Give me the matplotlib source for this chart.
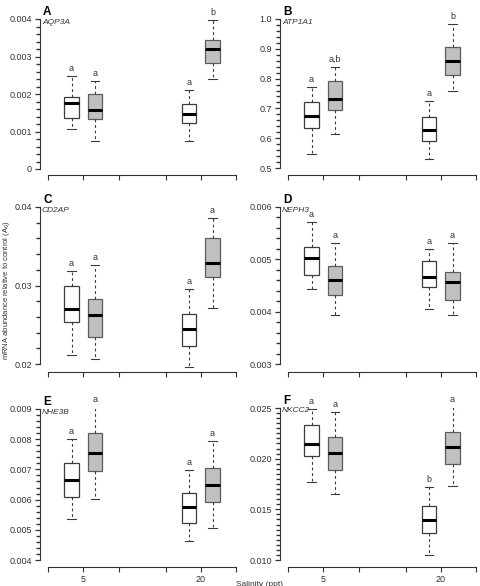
import matplotlib
matplotlib.use('Agg')
import matplotlib.pyplot as plt
import numpy as np

plt.rcParams['font.family'] = ['Liberation Sans', 'DejaVu Sans']

# box order: 5 ppt white, 5 ppt gray, 20 ppt white, 20 ppt gray
# each box: [whisker low, Q1, median, Q3, whisker high]
aqp3a = [[0.00108, 0.00137, 0.00177, 0.00193, 0.00248],
         [0.00076, 0.00134, 0.00158, 0.00201, 0.00234],
         [0.00074, 0.00122, 0.00146, 0.00174, 0.00210],
         [0.00239, 0.00283, 0.00319, 0.00345, 0.00398]]
atp1a1 = [[0.548, 0.635, 0.675, 0.721, 0.773],
          [0.613, 0.694, 0.730, 0.791, 0.840],
          [0.530, 0.590, 0.628, 0.670, 0.725],
          [0.758, 0.813, 0.860, 0.906, 0.982]]
cd2ap = [[0.0212, 0.0253, 0.0270, 0.0299, 0.0318],
         [0.0206, 0.0234, 0.0263, 0.0283, 0.0326],
         [0.0196, 0.0223, 0.0245, 0.0264, 0.0295],
         [0.0271, 0.0311, 0.0329, 0.0360, 0.0386]]
neph3 = [[0.00443, 0.00471, 0.00503, 0.00523, 0.00571],
         [0.00393, 0.00432, 0.00461, 0.00488, 0.00531],
         [0.00406, 0.00448, 0.00466, 0.00496, 0.00520],
         [0.00393, 0.00423, 0.00457, 0.00476, 0.00531]]
nhe3b = [[0.00537, 0.00610, 0.00665, 0.00722, 0.00800],
         [0.00601, 0.00694, 0.00755, 0.00821, 0.00906],
         [0.00462, 0.00521, 0.00577, 0.00623, 0.00697],
         [0.00506, 0.00593, 0.00649, 0.00706, 0.00794]]
nkcc2 = [[0.01771, 0.02029, 0.02144, 0.02329, 0.02493],
         [0.01653, 0.01887, 0.02058, 0.02213, 0.02460],
         [0.01053, 0.01264, 0.01396, 0.01531, 0.01722],
         [0.01729, 0.01949, 0.02114, 0.02259, 0.02507]]

genes = ['AQP3A', 'ATP1A1', 'CD2AP', 'NEPH3', 'NHE3B', 'NKCC2']
panel_ids = ['A', 'B', 'C', 'D', 'E', 'F']
all_stats = [aqp3a, atp1a1, cd2ap, neph3, nhe3b, nkcc2]
letters = [['a', 'a', 'a', 'b'],
           ['a', 'a,b', 'a', 'b'],
           ['a', 'a', 'a', 'a'],
           ['a', 'a', 'a', 'a'],
           ['a', 'a', 'a', 'a'],
           ['a', 'a', 'b', 'a']]
yticks = [[0, 0.001, 0.002, 0.003, 0.004],
          [0.5, 0.6, 0.7, 0.8, 0.9, 1.0],
          [0.02, 0.03, 0.04],
          [0.003, 0.004, 0.005, 0.006],
          [0.004, 0.005, 0.006, 0.007, 0.008, 0.009],
          [0.010, 0.015, 0.020, 0.025]]
ytick_labels = [['0', '0.001', '0.002', '0.003', '0.004'],
                ['0.5', '0.6', '0.7', '0.8', '0.9', '1.0'],
                ['0.02', '0.03', '0.04'],
                ['0.003', '0.004', '0.005', '0.006'],
                ['0.004', '0.005', '0.006', '0.007', '0.008', '0.009'],
                ['0.010', '0.015', '0.020', '0.025']]
minor_per_major = [5, 5, 5, 5, 5, 10]
salinity = ['5', '20']

positions = [1, 2, 6, 7]
xticks = [0, 1.5, 3, 5, 6.5, 8]
fills = ['white', '#c0c0c0', 'white', '#c0c0c0']
edges = ['#3c3c3c', '#5c5c5c', '#3c3c3c', '#5c5c5c']

W, H = 481, 586
# pixel layout: spine x, top of data, bottom of data, x-axis line
layout = [(40, 19, 169, 175), (280, 19, 168, 175),
          (40, 207, 364, 372), (280, 207, 364, 372),
          (40, 409, 560, 567), (280, 408, 560, 567)]
px_per_unit = 23.5

fig = plt.figure(figsize=(W / 100, H / 100), dpi=100)

for i in range(6):
    L, T, B, X = layout[i]
    ymin, ymax = yticks[i][0], yticks[i][-1]
    scale = (ymax - ymin) / (B - T)
    x_left = -8 / px_per_unit
    x_right = 8.15
    width_px = (x_right - x_left) * px_per_unit
    ax = fig.add_axes([L / W, 1 - X / H, width_px / W, (X - T) / H])
    ax.set_xlim(x_left, x_right)
    ax.set_ylim(ymin - (X - B) * scale, ymax)

    stats = []
    for s in all_stats[i]:
        stats.append(dict(whislo=s[0], q1=s[1], med=s[2], q3=s[3], whishi=s[4]))
    bp = ax.bxp(stats, positions=positions, widths=0.62, showfliers=False,
                patch_artist=True,
                boxprops=dict(linewidth=0.9),
                medianprops=dict(color='black', linewidth=2.2, solid_capstyle='butt'),
                whiskerprops=dict(color='#3a3a3a', linewidth=0.8, linestyle=(0, (2.5, 2.5))),
                capprops=dict(color='#3a3a3a', linewidth=0.8),
                capwidths=0.37)
    for patch, c, e in zip(bp['boxes'], fills, edges):
        patch.set_facecolor(c)
        patch.set_edgecolor(e)

    for pos, s, lab in zip(positions, all_stats[i], letters[i]):
        ax.text(pos, s[4] + 3 * scale, lab, ha='center', va='bottom', fontsize=6.5,
                color='#333333')

    for side in ['top', 'right']:
        ax.spines[side].set_visible(False)
    ax.spines['left'].set_bounds(ymin, ymax)
    ax.spines['bottom'].set_bounds(0, 8)
    for side in ['left', 'bottom']:
        ax.spines[side].set_color('#333333')
        ax.spines[side].set_linewidth(0.8)

    ax.set_yticks(yticks[i])
    ax.set_yticklabels(ytick_labels[i])
    step = (yticks[i][1] - yticks[i][0]) / minor_per_major[i]
    n_minor = int(round((ymax - ymin) / step))
    ax.set_yticks(ymin + step * np.arange(n_minor + 1), minor=True)
    ax.tick_params(axis='y', which='major', length=3.8, width=0.9, labelsize=6.5,
                   pad=2, color='#333333', labelcolor='#333333')
    ax.tick_params(axis='y', which='minor', length=2.8, width=1.0, color='#333333',
                   left=True)
    ax.set_xticks(xticks)
    if i >= 4:
        ax.set_xticklabels(['', salinity[0], '', '', salinity[1], ''])
    else:
        ax.set_xticklabels([''] * 6)
    ax.tick_params(axis='x', which='major', length=3.6, width=0.8, labelsize=6.5,
                   pad=2, color='#333333', labelcolor='#333333')
    ax.patch.set_visible(False)

    fig.text((L + 3) / W, 1 - (T - 7) / H, panel_ids[i], fontsize=8.5,
             fontweight='bold', ha='left', va='center')
    fig.text((L + 2) / W, 1 - (T + 3) / H, genes[i], fontsize=6, style='italic',
             ha='left', va='center', color='#333333')

fig.text(7 / W, 1 - 290 / H, 'mRNA abundance relative to control (A$_0$)',
         rotation=90, ha='center', va='center', fontsize=5.5, color='#333333')
fig.text(260 / W, 1 - 584 / H, 'Salinity (ppt)', ha='center', va='center',
         fontsize=6, color='#333333')

fig.savefig('out.png', dpi=100)
